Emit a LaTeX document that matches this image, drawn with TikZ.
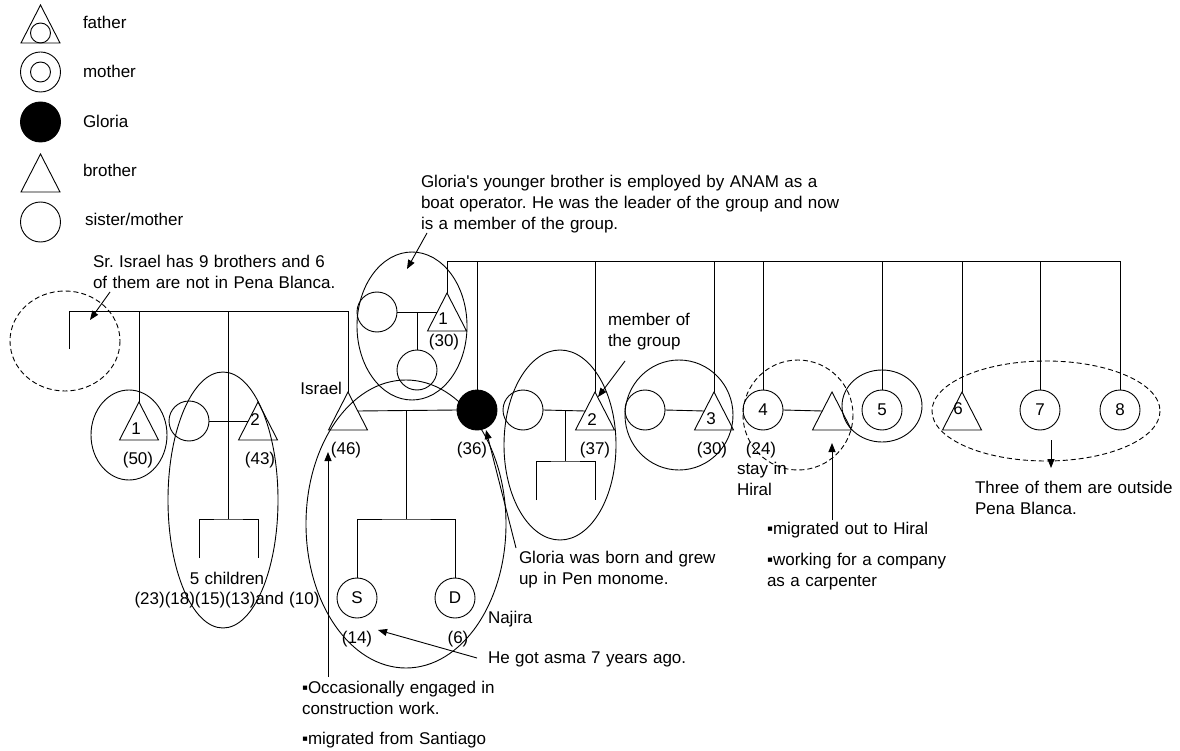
\documentclass[tikz,border=0pt]{standalone}
\usepackage{fontspec}
\setmainfont{Liberation Sans}[Ligatures=TeXOff,WordSpace=1.15]
\usetikzlibrary{arrows.meta,calc}
\begin{document}
\frenchspacing
\begin{tikzpicture}[x=1pt,y=-1pt,line width=0.9pt,
  every node/.style={font=\fontsize{17}{21}\selectfont, inner sep=0pt, outer sep=0pt},
  tri/.style={minimum width=39pt, minimum height=38pt},
  circ/.style={circle, draw, minimum size=40pt, line width=0.9pt},
  smallc/.style={circle, draw, minimum size=20pt, line width=0.9pt},
  ctr/.style={anchor=base},
  lft/.style={anchor=base west},
  para/.style={anchor=north west, align=left},
  dgrp/.style={dash pattern=on 5pt off 3pt},
  arr/.style={-{Triangle[length=9pt,width=7pt]}},
]
\useasboundingbox (0,0) rectangle (1180,751);

% ---------------- legend ----------------
\node[tri] (lfa) at (40.5,24) {};
\node[smallc] (lfain) at (40.5,33) {};
\node[circ] (lmo) at (40.5,72) {};
\node[smallc] (lmoin) at (40.5,72) {};
\node[circ, fill=black] (lgl) at (40.5,122) {};
\node[tri] (lbr) at (40.5,173) {};
\node[circ] (lsi) at (40.5,222) {};
\node[lft] (tfa) at (83,29) {father};
\node[lft] (tmo) at (83,78) {mother};
\node[lft] (tgl) at (83,128) {Gloria};
\node[lft] (tbr) at (83,177) {brother};
\node[lft] (tsi) at (85,226) {sister/mother};

% ---------------- Israel's side ----------------
\node[tri] (b1) at (139,421) {};
\node[circ] (w2) at (189,421) {};
\node[tri] (b2) at (258,421) {};
\node[tri] (israel) at (348,411) {};
\node[circ, fill=black] (gloria) at (477,410) {};
\node[circ] (S) at (357,598) {S};
\node[circ] (D) at (455,598) {D};

% ---------------- Gloria's side ----------------
\node[tri] (fa1) at (447,312) {};
\node[circ] (mo1) at (377,312) {};
\node[circ] (ch1) at (417,370) {};
\node[tri] (b2b) at (595,411) {};
\node[circ] (w2b) at (523,410) {};
\node[tri] (b3) at (714,411) {};
\node[circ] (w3) at (645,410) {};
\node[circ] (s4) at (763,410) {4};
\node[tri] (h4) at (832,411) {};
\node[circ] (s5) at (882,410) {5};
\node[tri] (b6) at (962,411) {};
\node[circ] (s7) at (1040,410) {7};
\node[circ] (s8) at (1120,410) {8};

\foreach \t in {lfa,lbr,b1,b2,israel,fa1,b2b,b3,h4,b6}
  \draw (\t.north) -- (\t.south east) -- (\t.south west) -- cycle;

% numbers in triangles and ages
\node[ctr] (n1) at (136,434) {1};
\node[ctr] (n2) at (255,425) {2};
\node[ctr] (n1u) at (443,324) {1};
\node[ctr] (n2b) at (592,425) {2};
\node[ctr] (n3) at (711,424) {3};
\node[ctr] (n6) at (958,414) {6};
\node[ctr] (a50) at (138,464) {(50)};
\node[ctr] (a43) at (260,464) {(43)};
\node[ctr] (a46) at (346,454) {(46)};
\node[ctr] (a36) at (472,454) {(36)};
\node[ctr] (a14) at (357,643) {(14)};
\node[ctr] (a6) at (458,643) {(6)};
\node[ctr] (a30u) at (444,346) {(30)};
\node[ctr] (a37) at (595,454) {(37)};
\node[ctr] (a30) at (712,454) {(30)};
\node[ctr] (a24) at (761,454) {(24)};

% ---------------- group outlines ----------------
\draw (129,435) ellipse [x radius=38, y radius=45];
\draw (223,500) ellipse [x radius=55, y radius=128];
\draw (406,524) ellipse [x radius=100, y radius=144];
\draw (412,326) ellipse [x radius=55, y radius=74];
\draw (560,445) ellipse [x radius=56, y radius=95];
\draw (679,415) ellipse [x radius=54, y radius=55];
\draw (882,406) ellipse [x radius=40, y radius=36];
\draw[dgrp] (65,341) ellipse [x radius=55, y radius=50];
\draw[dgrp] (798,415) ellipse [x radius=55, y radius=55];
\draw[dgrp] (1046,411) ellipse [x radius=114, y radius=50];

% ---------------- kinship lines ----------------
\coordinate (lstub) at (69,349);
\coordinate (sibbar) at (69,311);
\draw (lstub) -- (sibbar) -| (israel.north);
\draw (b1.north) -- (b1.north |- sibbar);
\coordinate (kb2) at (228,519);
\coordinate (k2l) at (199,558);
\coordinate (k2r) at (258,558);
\draw (sibbar -| kb2) -- (kb2);
\draw (w2.east) -- ($(b2.north)!0.5!(b2.south west)$);
\draw (k2l) |- (kb2) -| (k2r);

\draw ($(israel.north)!0.5!(israel.south east)$) -- (gloria.west);
\coordinate (kb3) at (406,519);
\draw (kb3 |- gloria.west) -- (kb3);
\draw (S.north) |- (kb3) -| (D.north);

\draw (mo1.east) -- ($(fa1.north)!0.5!(fa1.south west)$);
\draw (ch1.north) -- (ch1.north |- mo1.east);

\coordinate (gbar) at (447,261);
\draw (fa1.north) -- (gbar) -| (s8.north);
\foreach \n in {gloria,b2b,b3,s4,s5,b6,s7}
  \draw (\n.north) -- (\n.north |- gbar);

\draw (w2b.east) -- ($(b2b.north)!0.5!(b2b.south west)$);
\coordinate (kb5) at (565,461);
\coordinate (k5l) at (536,500);
\coordinate (k5r) at (595,500);
\draw (kb5 |- w2b.east) -- (kb5);
\draw (k5l) |- (kb5) -| (k5r);

\draw (w3.east) -- ($(b3.north)!0.5!(b3.south west)$);
\draw (s4.east) -- ($(h4.north)!0.5!(h4.south west)$);

% ---------------- texts ----------------
\node[para] (israelnote) at (93,255) {Sr. Israel has 9 brothers and 6\\of them are not in Pena Blanca.};
\node[para] (gloriabro) at (421,175) {Gloria's younger brother is employed by ANAM as a\\boat operator. He was the leader of the group and now\\is a member of the group.};
\node[para] (memb) at (608,313) {member of\\the group};
\node[anchor=base east] (tisrael) at (342,394) {Israel};
\node[ctr] (fivech) at (227,584) {5 children};
\node[ctr] (kidages) at (227,604) {(23)(18)(15)(13)and (10)};
\node[lft] (najira) at (488,623) {Najira};
\node[lft] (asma) at (488,663) {He got asma 7 years ago.};
\node[para] (israelbul) at (302,681) {▪Occasionally engaged in\\construction work.\\[9pt]▪migrated from Santiago};
\node[para] (gborn) at (519,551) {Gloria was born and grew\\up in Pen monome.};
\node[para] (stay) at (737,462) {stay in\\Hiral};
\node[para] (migr) at (767,522) {▪migrated out to Hiral\\[10pt]▪working for a company\\as a carpenter};
\node[para] (three) at (975,481) {Three of them are outside\\Pena Blanca.};

% ---------------- arrows ----------------
\coordinate (p1s) at (110,292); \coordinate (p1e) at (90,320);
\coordinate (p2s) at (427,233); \coordinate (p2e) at (407,269);
\coordinate (p3s) at (625,361); \coordinate (p3e) at (598,397);
\coordinate (p4s) at (328,677); \coordinate (p4e) at (328,452);
\coordinate (p5s) at (477,658); \coordinate (p5e) at (378,630);
\coordinate (p6s) at (516,548); \coordinate (p6e) at (486,430);
\coordinate (p7s) at (832,520); \coordinate (p7e) at (832,443);
\coordinate (p8s) at (1051,440); \coordinate (p8e) at (1051,468);
\foreach \i in {1,...,8}
  \draw[arr] (p\i s) -- (p\i e);
\end{tikzpicture}
\end{document}
